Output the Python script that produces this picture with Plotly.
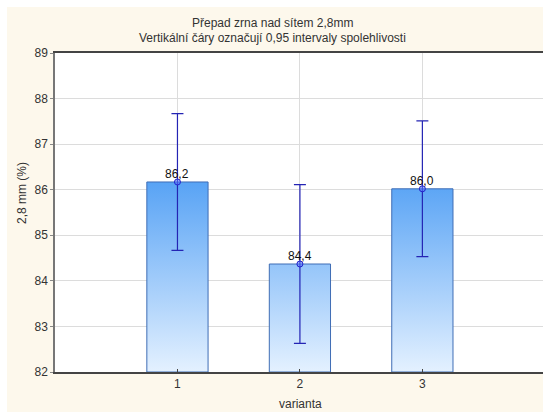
import plotly.graph_objects as go

# ---- data ----
categories = [1, 2, 3]
means = [86.17, 84.37, 86.02]
ci_half = [1.50, 1.74, 1.49]
title_lines = ["Přepad zrna nad sítem 2,8mm", "Vertikální čáry označují 0,95 intervaly spolehlivosti"]
x_title = "varianta"
y_title = "2,8 mm (%)"
y_ticks = [82, 83, 84, 85, 86, 87, 88, 89]

W, H = 543, 412
ML, MR, MT, MB = 55, 0, 53, 40
Y0, Y1 = 82, 89
BAR_W = 0.5
EDGE = 7  # white strip at the left/top edge of the screenshot
FONT = "Liberation Sans, Arial, sans-serif"

def px_x(px):
    return (px - ML) / (W - ML - MR)

def px_y(py):
    return (H - MB - py) / (H - MT - MB)

fig = go.Figure()

# bars with vertical gradient
for c, m in zip(categories, means):
    xs = [c - BAR_W / 2, c - BAR_W / 2, c + BAR_W / 2, c + BAR_W / 2, c - BAR_W / 2]
    ys = [Y0, m, m, Y0, Y0]
    fig.add_trace(go.Scatter(
        x=xs, y=ys, mode="lines", fill="toself",
        line=dict(color="#3f6db5", width=1),
        fillgradient=dict(type="vertical",
                          colorscale=[[0, "#e4f1ff"], [1, "#58a3f5"]],
                          start=Y0, stop=max(means)),
        hoverinfo="skip", showlegend=False,
    ))

fig.add_trace(go.Scatter(
    x=categories, y=means, mode="markers",
    marker=dict(symbol="circle", size=6, color="rgba(90,120,255,0.55)",
                line=dict(color="#2222cc", width=1)),
    error_y=dict(type="data", array=ci_half, visible=True,
                 color="#2424b4", thickness=1.2, width=6),
    showlegend=False,
))

labels = [f"{m:.1f}".replace(".", ",") for m in means]
for c, m, t in zip(categories, means, labels):
    fig.add_annotation(x=c, y=m, xref="x", yref="y", text=t, showarrow=False,
                       xanchor="center", yanchor="middle", yshift=8,
                       font=dict(family=FONT, size=12, color="#111111"))

fig.update_layout(
    width=W, height=H, autosize=False,
    margin=dict(l=ML, r=MR, t=MT, b=MB, pad=0),
    paper_bgcolor="#fdf8ec", plot_bgcolor="#ffffff",
    font=dict(family=FONT, size=12, color="#333333"),
    showlegend=False,
    xaxis=dict(range=[0, 3.985], tickvals=categories, ticktext=[str(c) for c in categories],
               showgrid=True, gridcolor="#dcdcdc", gridwidth=1,
               showline=True, linecolor="#444444", linewidth=2, mirror=True,
               ticks="inside", ticklen=3, tickcolor="#444444",
               zeroline=False, tickfont=dict(size=12, color="#333333")),
    yaxis=dict(range=[Y0, Y1], tickvals=y_ticks,
               showgrid=True, gridcolor="#dcdcdc", gridwidth=1,
               showline=True, linecolor="#777777", linewidth=1.5,
               ticks="outside", ticklen=3, tickcolor="#888888",
               zeroline=False, tickfont=dict(size=12, color="#333333")),
)

annos = [
    dict(text=title_lines[0], x=px_x(272), y=px_y(23)),
    dict(text=title_lines[1], x=px_x(272), y=px_y(38)),
    dict(text=x_title, x=px_x(300), y=px_y(404)),
]
for a in annos:
    fig.add_annotation(xref="paper", yref="paper", showarrow=False,
                       xanchor="center", yanchor="middle",
                       font=dict(family=FONT, size=12, color="#333333"), **a)
fig.add_annotation(text=y_title, xref="paper", yref="paper", x=px_x(22), y=px_y(193),
                   showarrow=False, textangle=-90, xanchor="center", yanchor="middle",
                   font=dict(family=FONT, size=12, color="#333333"))

fig.add_shape(type="rect", xref="paper", yref="paper",
              x0=px_x(0), x1=px_x(EDGE), y0=px_y(H), y1=px_y(0),
              fillcolor="#ffffff", line=dict(width=0), layer="above")
fig.add_shape(type="rect", xref="paper", yref="paper",
              x0=px_x(0), x1=px_x(W), y0=px_y(EDGE), y1=px_y(0),
              fillcolor="#ffffff", line=dict(width=0), layer="above")

fig.write_html(
    "out.html",
    config={"responsive": False, "displayModeBar": False},
    post_script="document.body.style.margin='0';document.documentElement.style.overflow='hidden';",
)
